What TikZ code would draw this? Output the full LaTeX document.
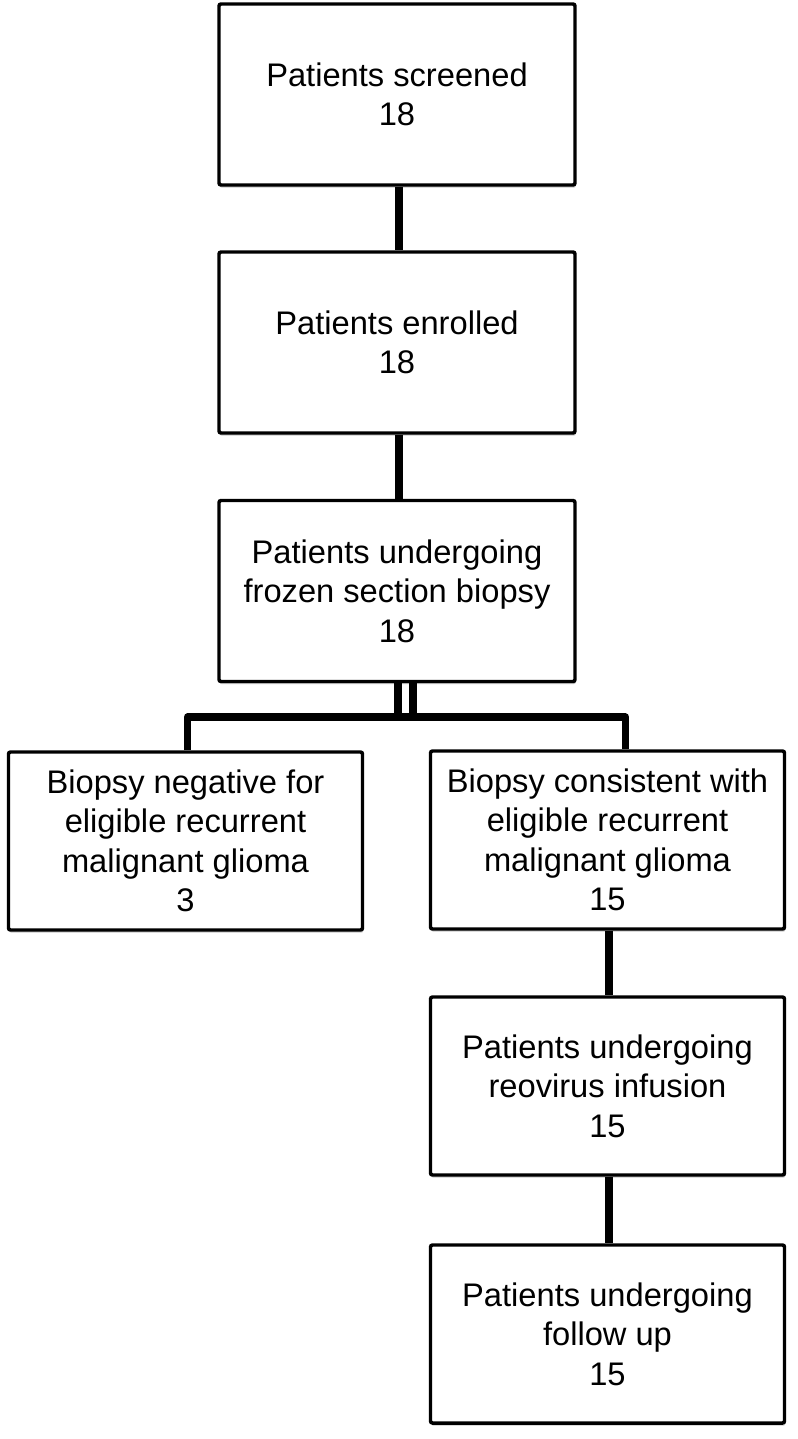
\documentclass[tikz,border=0pt]{standalone}
\usepackage{fontspec}
\setmainfont{Liberation Sans}
\usetikzlibrary{shadows}
\begin{document}
\begin{tikzpicture}[x=0.75pt,y=-0.75pt,
  box/.style={draw=black, line width=2.6pt, fill=white, rounded corners=1.5pt,
    align=center, inner sep=0pt,
    font=\fontsize{24.5}{29.6}\selectfont,
    drop shadow={shadow xshift=0.6pt, shadow yshift=-2pt, opacity=0.3, fill=black!70}},
  topbox/.style={box, minimum width=267pt, minimum height=135.75pt},
  lowbox/.style={box, minimum width=265.5pt, minimum height=133.5pt},
  conn/.style={line width=6pt, line cap=butt},
  bar/.style={line width=5.4pt, line join=round}]
\useasboundingbox (0,0) rectangle (798,1439);
\fill[white] (0,0) rectangle (798,1439);

\node[topbox] (scr) at (397,94.5) {Patients screened\\18};
\node[topbox] (enr) at (397,342.5) {Patients enrolled\\18};
\node[topbox] (frz) at (397,591) {Patients undergoing\\frozen section biopsy\\18};
\node[lowbox] (neg) at (185.5,841) {Biopsy negative for\\eligible recurrent\\malignant glioma\\3};
\node[lowbox] (pos) at (607.5,840) {Biopsy consistent with\\eligible recurrent\\malignant glioma\\15};
\node[lowbox] (reo) at (607.5,1086) {Patients undergoing\\reovirus infusion\\15};
\node[lowbox] (fol) at (607.5,1334) {Patients undergoing\\follow up\\15};

\coordinate (bar) at (405,717);

\draw[conn] ([xshift=1.5pt]scr.south) -- ([xshift=1.5pt]enr.north);
\draw[conn] ([xshift=1.5pt]enr.south) -- ([xshift=1.5pt]frz.north);
\draw[bar] ([xshift=0.75pt]frz.south) -- ([xshift=0.75pt]frz.south |- bar);
\draw[bar] ([xshift=12pt]frz.south) -- ([xshift=12pt]frz.south |- bar);
\draw[bar] ([xshift=1.5pt]neg.north) -- ([xshift=1.5pt]neg.north |- bar) -- ([xshift=13.5pt]pos.north |- bar) -- ([xshift=13.5pt]pos.north);
\draw[conn] ([xshift=1pt]pos.south) -- ([xshift=1pt]reo.north);
\draw[conn] ([xshift=1pt]reo.south) -- ([xshift=1pt]fol.north);
\end{tikzpicture}
\end{document}
